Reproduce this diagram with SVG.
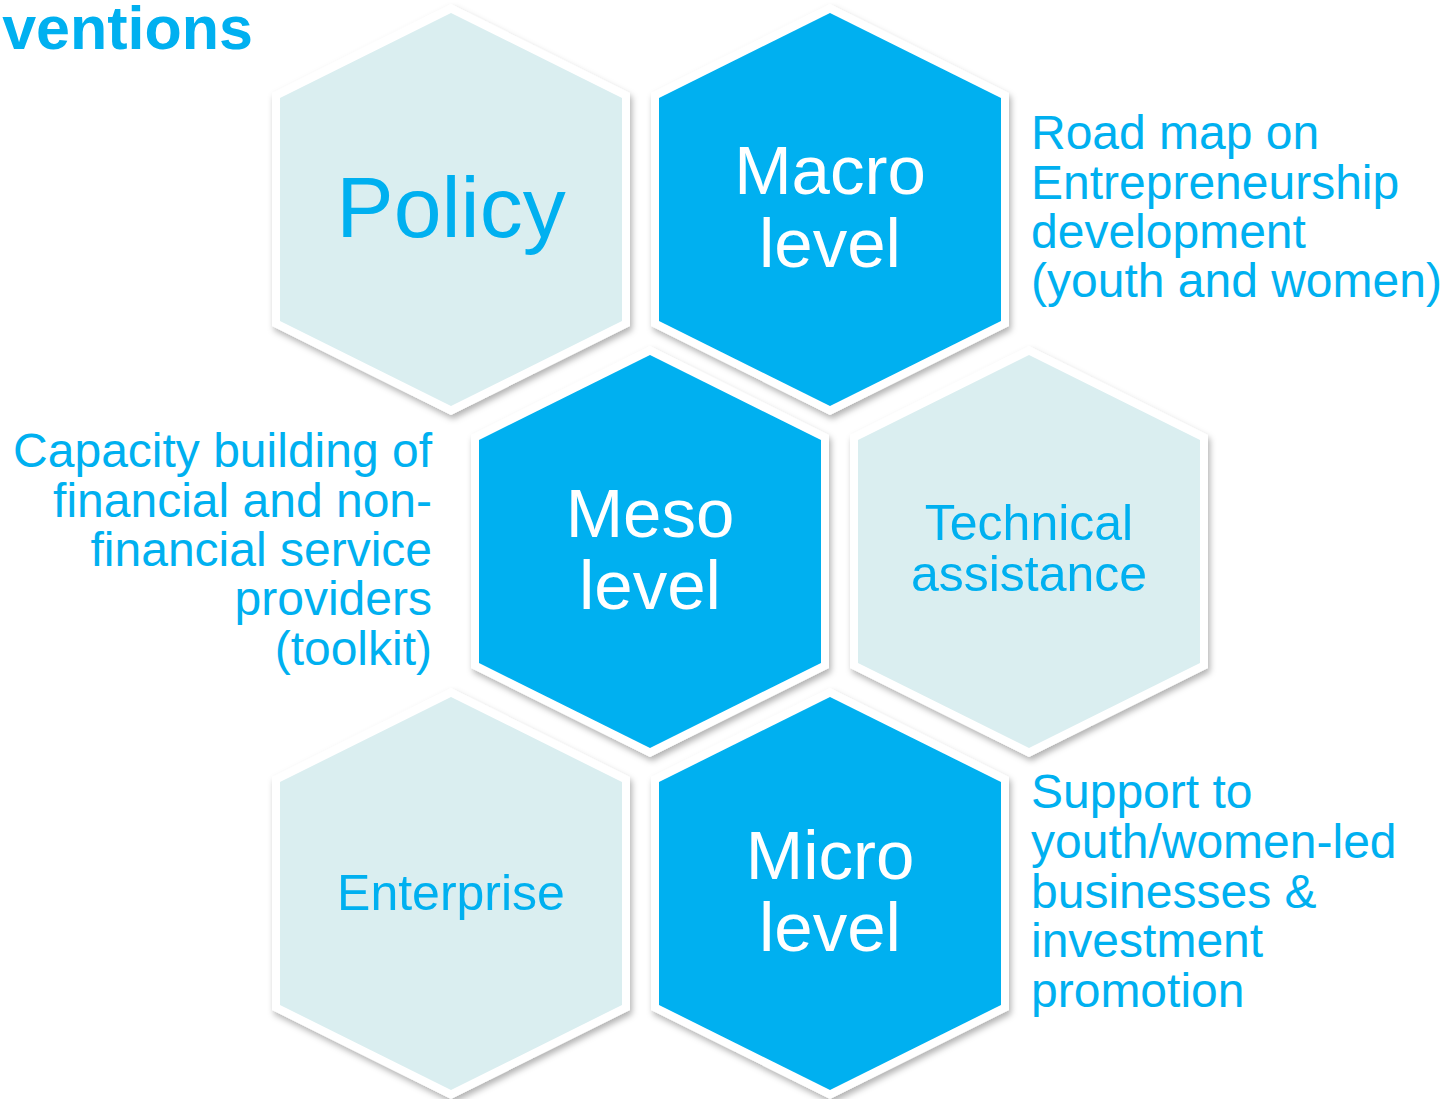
<svg xmlns="http://www.w3.org/2000/svg" width="1455" height="1099" viewBox="0 0 1455 1099">
<defs>
<filter id="sh" x="-10%" y="-10%" width="125%" height="125%">
<feDropShadow dx="2" dy="4" stdDeviation="3" flood-color="#000" flood-opacity="0.3"/>
</filter>
</defs>
<style>
.hex{stroke:#fff;stroke-width:16;stroke-linejoin:miter;paint-order:stroke;filter:url(#sh)}
.dark{fill:#00B0F0}
.light{fill:#DAEEF0}
text{font-family:"Liberation Sans",Arial,sans-serif}
.wt{fill:#fff;font-size:69px;text-anchor:middle}
.bt{fill:#00B0F0}
.mid{text-anchor:middle}
.side{fill:#00B0F0;font-size:48px}
</style>
<rect width="1455" height="1099" fill="#fff"/>
<text x="253" y="49" font-size="61" font-weight="bold" fill="#00B0F0" text-anchor="end">ventions</text>
<g id="policy">
<polygon class="hex light" points="451,13 622,98 622,321 451,406 280,321 280,98"/>
<text class="bt mid" x="451" y="237" font-size="86">Policy</text>
</g>
<g id="macro">
<polygon class="hex dark" points="830,13 1001,98 1001,321 830,406 659,321 659,98"/>
<text class="wt" x="830" y="194">Macro</text>
<text class="wt" x="830" y="267">level</text>
</g>
<g id="meso">
<polygon class="hex dark" points="650,355 821,440 821,663 650,748 479,663 479,440"/>
<text class="wt" x="650" y="537">Meso</text>
<text class="wt" x="650" y="609">level</text>
</g>
<g id="technical">
<polygon class="hex light" points="1029,355 1200,440 1200,663 1029,748 858,663 858,440"/>
<text class="bt mid" x="1029" y="540" font-size="50">Technical</text>
<text class="bt mid" x="1029" y="591" font-size="50">assistance</text>
</g>
<g id="enterprise">
<polygon class="hex light" points="451,697 622,782 622,1005 451,1090 280,1005 280,782"/>
<text class="bt mid" x="451" y="910" font-size="50">Enterprise</text>
</g>
<g id="micro">
<polygon class="hex dark" points="830,697 1001,782 1001,1005 830,1090 659,1005 659,782"/>
<text class="wt" x="830" y="879">Micro</text>
<text class="wt" x="830" y="951">level</text>
</g>
<g id="label-macro" class="side">
<text x="1031" y="149">Road map on</text>
<text x="1031" y="199">Entrepreneurship</text>
<text x="1031" y="248">development</text>
<text x="1031" y="297">(youth and women)</text>
</g>
<g id="label-meso" class="side" text-anchor="end">
<text x="432" y="467">Capacity building of</text>
<text x="432" y="517">financial and non-</text>
<text x="432" y="566">financial service</text>
<text x="432" y="615">providers</text>
<text x="432" y="665">(toolkit)</text>
</g>
<g id="label-micro" class="side">
<text x="1031" y="808">Support to</text>
<text x="1031" y="858">youth/women-led</text>
<text x="1031" y="908">businesses &amp;</text>
<text x="1031" y="957">investment</text>
<text x="1031" y="1007">promotion</text>
</g>
<g id="connectors"/>
</svg>
